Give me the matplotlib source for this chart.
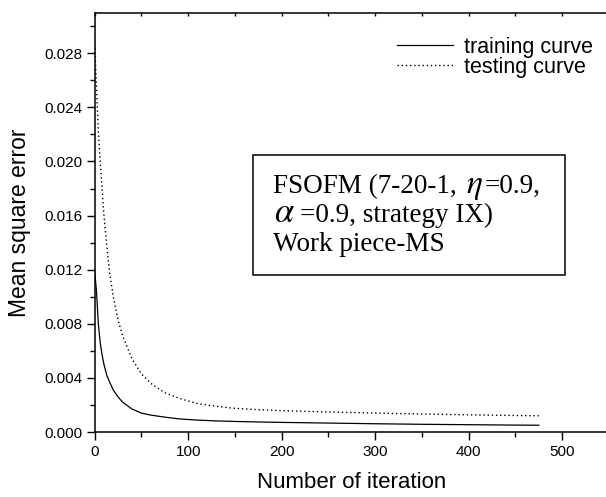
import matplotlib
matplotlib.use("Agg")
import matplotlib.pyplot as plt
from matplotlib.patches import Rectangle
from matplotlib.ticker import MultipleLocator

plt.rcParams["font.family"] = ["Liberation Sans", "DejaVu Sans"]
plt.rcParams["mathtext.fontset"] = "stix"

# Mean square error versus training iteration
iterations = [0, 2, 4, 6, 8, 10, 13, 16, 20, 25, 30, 40, 50, 60, 75, 90,
              110, 130, 150, 175, 200, 250, 300, 350, 400, 450, 475]
training_mse = [0.0120, 0.0104, 0.0080, 0.0066, 0.0057, 0.0050, 0.0042, 0.0037,
                0.0031, 0.0026, 0.0022, 0.0017, 0.0014, 0.00125, 0.0011, 0.00097,
                0.00088, 0.00082, 0.00078, 0.00074, 0.00071, 0.00066, 0.00061,
                0.00057, 0.00054, 0.00051, 0.00050]
testing_mse = [0.0290, 0.0255, 0.0222, 0.0200, 0.0180, 0.0160, 0.0138, 0.0118,
               0.0100, 0.0083, 0.0071, 0.0054, 0.0043, 0.0036, 0.0029, 0.0025,
               0.0021, 0.0019, 0.00175, 0.00165, 0.00158, 0.00148, 0.00140,
               0.00133, 0.00127, 0.00122, 0.00120]

x_ticks = [0, 100, 200, 300, 400, 500]
y_ticks = [0.000, 0.004, 0.008, 0.012, 0.016, 0.020, 0.024, 0.028]
series_labels = ["training curve", "testing curve"]

W, H = 606, 497
fig = plt.figure(figsize=(W / 100, H / 100), dpi=100)
ax = fig.add_axes([94.6 / W, 1 - 432 / H, (609 - 94.6) / W, (432 - 12.7) / H])

ax.plot(iterations, training_mse, color="black", lw=0.9, label=series_labels[0])
ax.plot(iterations, testing_mse, color="black", lw=1.0, linestyle=(0, (1, 2)),
        label=series_labels[1])

ax.set_xlim(0, 550)
ax.set_ylim(0, 0.031)
ax.set_xticks(x_ticks)
ax.set_yticks(y_ticks)
ax.set_yticklabels([f"{v:.3f}" for v in y_ticks])
ax.xaxis.set_minor_locator(MultipleLocator(50))
ax.yaxis.set_minor_locator(MultipleLocator(0.002))

for side in ("left", "bottom", "top", "right"):
    ax.spines[side].set_linewidth(1.1)
ax.tick_params(axis="both", which="major", direction="out", length=6, width=1.0,
               labelsize=11, pad=3)
ax.tick_params(axis="both", which="minor", direction="out", length=3.5, width=1.0)

# small inward ticks along the top edge
top = ax.twiny()
top.set_xlim(ax.get_xlim())
top.set_xticks(x_ticks)
top.xaxis.set_minor_locator(MultipleLocator(50))
top.tick_params(axis="x", which="both", direction="in", length=2.5, width=1.0,
                labeltop=False)
for side in top.spines.values():
    side.set_visible(False)

ax.set_xlabel("Number of iteration", fontsize=16, labelpad=10)
ax.set_ylabel("Mean square error", fontsize=16.5, labelpad=9)

leg = ax.legend(loc="upper left", bbox_to_anchor=(397 / W, 1 - 37 / H),
                bbox_transform=fig.transFigure, frameon=False, fontsize=15.5,
                handlelength=2.6, handletextpad=0.5, labelspacing=-0.05,
                borderpad=0, borderaxespad=0)

# annotation box with mixed roman text and italic Greek symbols
fig.patches.append(Rectangle((253 / W, 1 - 275 / H), (565 - 253) / W, 120 / H,
                             transform=fig.transFigure, fill=False,
                             edgecolor="black", lw=1.1))
serif = ["Liberation Serif", "DejaVu Serif"]
renderer = fig.canvas.get_renderer()


def write_line(x_px, baseline_px, pieces):
    """Place text pieces one after another on a shared baseline."""
    x = x_px
    for text, size, gap in pieces:
        t = fig.text(x / W, 1 - baseline_px / H, text, family=serif,
                     fontsize=size, va="baseline", ha="left")
        x = t.get_window_extent(renderer).x1 + gap


write_line(273, 193, [("FSOFM (7-20-1, ", 19.5, 2),
                      ("$\\eta$", 24, 2),
                      ("=0.9,", 19.5, 0)])
write_line(274, 222, [("$\\alpha$", 25, 5),
                      ("=0.9, strategy IX)", 19.5, 0)])
write_line(273, 251, [("Work piece-MS", 19.5, 0)])

fig.savefig("out.png", dpi=100)
